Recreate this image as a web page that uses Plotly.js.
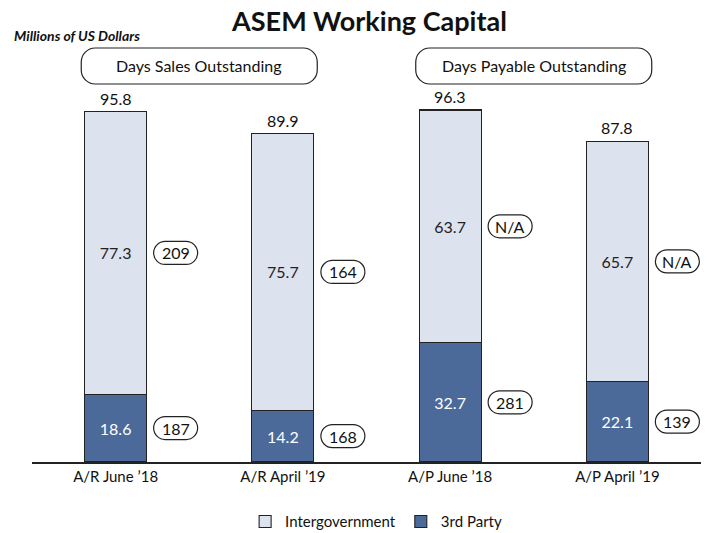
<!DOCTYPE html>
<html>
<head>
<meta charset="utf-8">
<script src="https://cdn.plot.ly/plotly-3.0.1.min.js"></script>
<style>html,body{margin:0;padding:0;background:#fff;}#chart{width:707px;height:533px;}</style>
</head>
<body>
<div id="chart"></div>
<script>
const categories = ["A/R June ’18", "A/R April ’19", "A/P June ’18", "A/P April ’19"];
const thirdParty = [18.6, 14.2, 32.7, 22.1];
const intergov = [77.3, 75.7, 63.7, 65.7];
const totals = [95.8, 89.9, 96.3, 87.8];
const thirdDays = ["187", "168", "281", "139"];
const intergovDays = ["209", "164", "N/A", "N/A"];
const groupLabels = ["Days Sales Outstanding", "Days Payable Outstanding"];

const FONT = "Lato, Carlito, Calibri, 'Open Sans', sans-serif";
const LIGHT = "#dde3ee";
const DARK = "#4b6a9a";
const EDGE = "#222222";

function rrect(cx, w, h, r) {
  const k = 0.5523 * r;
  const x0 = cx - w / 2, x1 = cx + w / 2, y0 = -h / 2, y1 = h / 2;
  return `M${x0 + r},${y0} L${x1 - r},${y0} C${x1 - r + k},${y0} ${x1},${y0 + r - k} ${x1},${y0 + r} ` +
    `L${x1},${y1 - r} C${x1},${y1 - r + k} ${x1 - r + k},${y1} ${x1 - r},${y1} ` +
    `L${x0 + r},${y1} C${x0 + r - k},${y1} ${x0},${y1 - r + k} ${x0},${y1 - r} ` +
    `L${x0},${y0 + r} C${x0},${y0 + r - k} ${x0 + r - k},${y0} ${x0 + r},${y0} Z`;
}

const data = [
  {
    type: "bar", name: "3rd Party", x: categories, y: thirdParty,
    marker: {color: DARK, line: {color: EDGE, width: 1.1}},
    text: thirdParty.map(v => v.toFixed(1)), textposition: "inside", insidetextanchor: "middle",
    constraintext: "none",
    textfont: {family: FONT, size: 16, color: "#ffffff"}, hoverinfo: "skip"
  },
  {
    type: "bar", name: "Intergovernment", x: categories, y: intergov,
    marker: {color: LIGHT, line: {color: EDGE, width: 1.1}},
    text: intergov.map(v => v.toFixed(1)), textposition: "inside", insidetextanchor: "middle",
    constraintext: "none",
    textfont: {family: FONT, size: 16, color: "#222"}, hoverinfo: "skip"
  }
];

const shapes = [];
const annotations = [];
const PW = 44, PH = 23, OFF = 60;
categories.forEach((c, i) => {
  const yThird = thirdParty[i] / 2;
  const yInter = thirdParty[i] + intergov[i] / 2;
  [[yThird, thirdDays[i]], [yInter, intergovDays[i]]].forEach(([yy, lab]) => {
    shapes.push({
      type: "path", xref: "x", yref: "y", xsizemode: "pixel", ysizemode: "pixel",
      xanchor: i, yanchor: yy, path: rrect(OFF, PW, PH, 11.5),
      line: {color: EDGE, width: 1.2}, fillcolor: "#ffffff", layer: "above"
    });
    annotations.push({
      x: i, y: yy, xref: "x", yref: "y", xshift: OFF, text: lab, showarrow: false,
      font: {family: FONT, size: 16, color: "#111"}, xanchor: "center", yanchor: "middle"
    });
  });
  annotations.push({
    x: i, y: totals[i], xref: "x", yref: "y", text: totals[i].toFixed(1), showarrow: false,
    yanchor: "bottom", yshift: 2, font: {family: FONT, size: 16, color: "#111"}
  });
});

[0.25, 0.75].forEach((px, j) => {
  shapes.push({
    type: "path", xref: "paper", yref: "paper", xsizemode: "pixel", ysizemode: "pixel",
    xanchor: px, yanchor: 0.9167, path: rrect(0, 236, 36, 14),
    line: {color: EDGE, width: 1.2}, fillcolor: "#ffffff", layer: "above"
  });
  annotations.push({
    x: px, y: 0.9167, xref: "paper", yref: "paper", text: groupLabels[j], showarrow: false,
    font: {family: FONT, size: 16, color: "#111"}, xanchor: "center", yanchor: "middle"
  });
});

annotations.push({
  x: -0.03, y: 0.988, xref: "paper", yref: "paper", xanchor: "left", yanchor: "middle",
  text: "<b><i>Millions of US Dollars</i></b>", showarrow: false,
  font: {family: FONT, size: 14, color: "#111"}
});

const layout = {
  width: 707, height: 533,
  margin: {l: 32, r: 6, t: 30, b: 71, autoexpand: false},
  paper_bgcolor: "#fff", plot_bgcolor: "#fff",
  barmode: "stack", bargap: 0.63,
  title: {text: "<b>ASEM Working Capital</b>", x: 0.5226, xanchor: "center", y: 0.960, yanchor: "middle",
          yref: "container", font: {family: FONT, size: 27, color: "#111"}},
  xaxis: {type: "category", showline: true, linecolor: EDGE, linewidth: 1.5, ticks: "",
          showgrid: false, zeroline: false, automargin: false,
          tickfont: {family: FONT, size: 15, color: "#111"},
          range: [-0.5, 3.5], fixedrange: true},
  yaxis: {range: [0, 118.3], visible: false, showgrid: false, zeroline: false, fixedrange: true,
          automargin: false},
  showlegend: true,
  legend: {orientation: "h", x: 0.532, xanchor: "center", xref: "container",
           y: 0.021, yanchor: "middle", yref: "container",
           traceorder: "reversed", font: {family: FONT, size: 15, color: "#111"}},
  shapes: shapes, annotations: annotations
};

Plotly.newPlot("chart", data, layout, {displayModeBar: false, staticPlot: true});
</script>
</body>
</html>
